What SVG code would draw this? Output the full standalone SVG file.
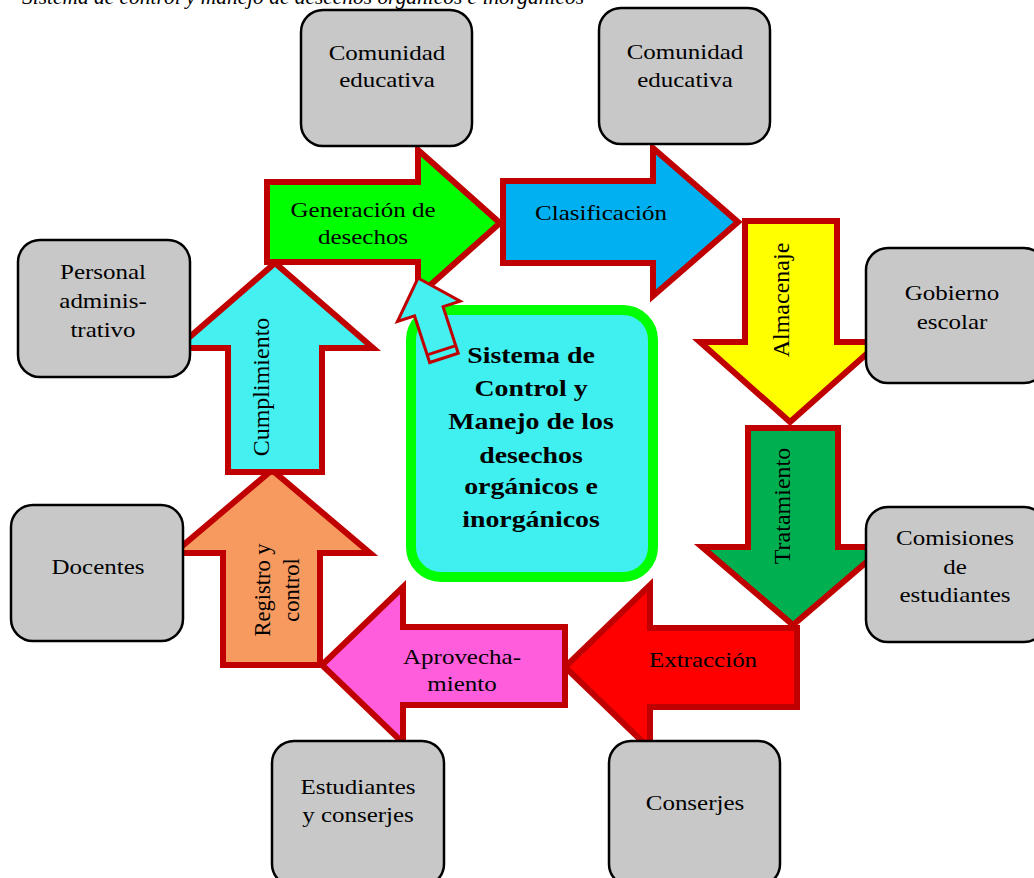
<svg xmlns="http://www.w3.org/2000/svg" width="1034" height="878" viewBox="0 0 1034 878">
<style>
.box{fill:#c8c8c8;stroke:#000;stroke-width:2.5}
.arr{stroke:#c00000;stroke-width:6;stroke-linejoin:miter}
.t{font-family:"Liberation Serif","Times New Roman",serif;font-size:21px;fill:#000;text-anchor:middle}
.r{font-family:"Liberation Serif","Times New Roman",serif;font-size:24px;fill:#000;text-anchor:middle}
.c{font-family:"Liberation Serif","Times New Roman",serif;font-size:24px;font-weight:bold;fill:#000;text-anchor:middle}
</style>
<rect width="1034" height="878" fill="#fff"/>
<text transform="translate(22,4) scale(1.02,1)" style="font-family:'Liberation Serif',serif;font-style:italic;font-size:21px">Sistema de control y manejo de desechos orgánicos e inorgánicos</text>
<g id="connectors">
<g id="a-generacion"><path class="arr" fill="#00ff00" d="M267,182 H418 V150 L500,223 L418,296 V262 H267 Z"/>
<text class="t" transform="translate(363,217) scale(1.19,1)">Generación de</text><text class="t" transform="translate(363,244) scale(1.19,1)">desechos</text></g>
<g id="a-clasificacion"><path class="arr" fill="#00b0f0" d="M503,181 H653 V148 L738,222 L653,296 V263 H503 Z"/>
<text class="t" transform="translate(601,220) scale(1.19,1)">Clasificación</text></g>
<g id="a-almacenaje"><path class="arr" fill="#ffff00" d="M745,221 H837 V342 H880 L790,422 L700,342 H745 Z"/>
<text class="r" transform="translate(789,300) rotate(-90)">Almacenaje</text></g>
<g id="a-tratamiento"><path class="arr" fill="#00b050" d="M748,428 H838 V547 H884 L793,625 L702,547 H748 Z"/>
<text class="r" transform="translate(790,506) rotate(-90)">Tratamiento</text></g>
<g id="a-extraccion"><path class="arr" fill="#ff0000" d="M797,628 V707 H650 V749 L565,667 L650,585 V628 Z"/>
<text class="t" transform="translate(703,667) scale(1.19,1)">Extracción</text></g>
<g id="a-aprovechamiento"><path class="arr" fill="#ff5ddc" d="M565,627 V705 H403 V743 L322,665 L403,587 V627 Z"/>
<text class="t" transform="translate(462,664) scale(1.19,1)">Aprovecha-</text><text class="t" transform="translate(462,691) scale(1.19,1)">miento</text></g>
<g id="a-registro"><path class="arr" fill="#f79a60" d="M223,665 V553 H174 L272,470 L370,553 H320 V665 Z"/>
<text class="t" style="font-size:22.5px" transform="translate(276,590) rotate(-90)"><tspan x="0" y="-6">Registro y</tspan><tspan x="0" y="23">control</tspan></text></g>
<g id="a-cumplimiento"><path class="arr" fill="#45f0f0" d="M228,472 V348 H177 L275,263 L373,348 H322 V472 Z"/>
<text class="r" transform="translate(269,387) rotate(-90)">Cumplimiento</text></g>
</g>
<g id="center">
<rect x="411" y="310" width="242" height="267" rx="30" fill="#40f0f0" stroke="#00ff00" stroke-width="10"/>
<text class="c" transform="translate(531,363) scale(1.16,1)">Sistema de</text>
<text class="c" transform="translate(531,396) scale(1.16,1)">Control y</text>
<text class="c" transform="translate(531,429) scale(1.16,1)">Manejo de los</text>
<text class="c" transform="translate(531,463) scale(1.16,1)">desechos</text>
<text class="c" transform="translate(531,494) scale(1.16,1)">orgánicos e</text>
<text class="c" transform="translate(531,527) scale(1.16,1)">inorgánicos</text>
</g>
<g id="small-arrow" transform="translate(418,278) rotate(-18)">
<path d="M0,0 L33,35 H15 V84 H-15 V35 H-33 Z" fill="#45f0f0" stroke="#c00000" stroke-width="3" stroke-linejoin="miter"/>
<line x1="-15" y1="76" x2="15" y2="76" stroke="#c00000" stroke-width="3"/>
</g>
<g id="n-comunidad1"><rect class="box" x="301" y="10" width="171" height="136" rx="22"/>
<text class="t" transform="translate(387,60) scale(1.19,1)">Comunidad</text><text class="t" transform="translate(387,87) scale(1.19,1)">educativa</text></g>
<g id="n-comunidad2"><rect class="box" x="599" y="8" width="171" height="136" rx="22"/>
<text class="t" transform="translate(685,59) scale(1.19,1)">Comunidad</text><text class="t" transform="translate(685,87) scale(1.19,1)">educativa</text></g>
<g id="n-gobierno"><rect class="box" x="866" y="248" width="180" height="135" rx="22"/>
<text class="t" transform="translate(952,300) scale(1.19,1)">Gobierno</text><text class="t" transform="translate(952,329) scale(1.19,1)">escolar</text></g>
<g id="n-comisiones"><rect class="box" x="866" y="507" width="180" height="135" rx="22"/>
<text class="t" transform="translate(955,545) scale(1.19,1)">Comisiones</text><text class="t" transform="translate(955,574) scale(1.19,1)">de</text><text class="t" transform="translate(955,602) scale(1.19,1)">estudiantes</text></g>
<g id="n-conserjes"><rect class="box" x="609" y="741" width="171" height="145" rx="22"/>
<text class="t" transform="translate(695,810) scale(1.19,1)">Conserjes</text></g>
<g id="n-estudiantes"><rect class="box" x="272" y="741" width="172" height="145" rx="22"/>
<text class="t" transform="translate(358,794) scale(1.19,1)">Estudiantes</text><text class="t" transform="translate(358,822) scale(1.19,1)">y conserjes</text></g>
<g id="n-docentes"><rect class="box" x="11" y="505" width="172" height="136" rx="22"/>
<text class="t" transform="translate(98,574) scale(1.19,1)">Docentes</text></g>
<g id="n-personal"><rect class="box" x="18" y="240" width="172" height="137" rx="22"/>
<text class="t" transform="translate(103,279) scale(1.19,1)">Personal</text><text class="t" transform="translate(103,308) scale(1.19,1)">adminis-</text><text class="t" transform="translate(103,337) scale(1.19,1)">trativo</text></g>
</svg>
